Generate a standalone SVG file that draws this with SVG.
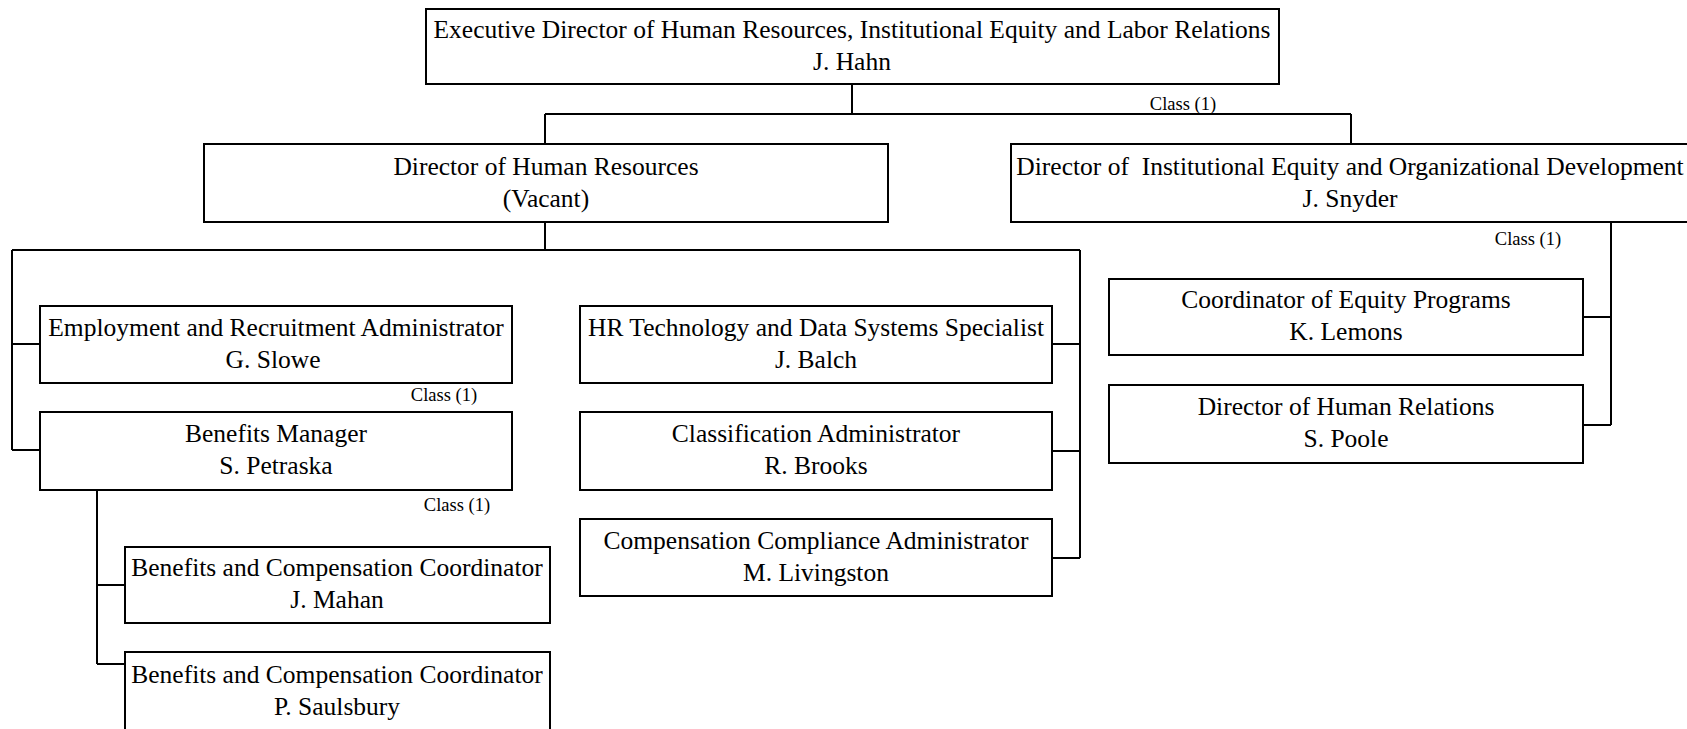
<svg xmlns="http://www.w3.org/2000/svg" width="1687" height="729" viewBox="0 0 1687 729">
<style>
.box{fill:#fff;stroke:#000;stroke-width:2}
.ln{fill:none;stroke:#000;stroke-width:2}
.t{font-family:"Liberation Serif","Times New Roman",serif;font-size:25.5px;fill:#000;text-anchor:middle;white-space:pre}
.c{font-family:"Liberation Serif","Times New Roman",serif;font-size:18.5px;fill:#000;text-anchor:middle}
</style>
<rect width="1687" height="729" fill="#fff"/>
<g id="connectors">
<path class="ln" d="M852 84V114M545 114H1351M545 114V144M1351 114V144"/>
<path class="ln" d="M545 222V250M12 250H1080M12 250V450M12 344H40M12 450H40M1080 250V558M1052 344H1080M1052 451H1080M1052 558H1080"/>
<path class="ln" d="M97 490V664M97 585H125M97 664H125"/>
<path class="ln" d="M1611 222V425M1583 317H1611M1583 425H1611"/>
<text class="c" x="1183" y="110">Class (1)</text>
<text class="c" x="1528" y="245">Class (1)</text>
<text class="c" x="444" y="401">Class (1)</text>
<text class="c" x="457" y="511">Class (1)</text>
</g>
<g id="exec">
<rect class="box" x="426" y="9" width="853" height="75"/>
<text class="t" x="852" y="38">Executive Director of Human Resources, Institutional Equity and Labor Relations</text>
<text class="t" x="852" y="70">J. Hahn</text>
</g>
<g id="dir-hr">
<rect class="box" x="204" y="144" width="684" height="78"/>
<text class="t" x="546" y="175">Director of Human Resources</text>
<text class="t" x="546" y="207">(Vacant)</text>
</g>
<g id="dir-ie">
<rect class="box" x="1011" y="144" width="678" height="78"/>
<text class="t" x="1350" y="175">Director of  Institutional Equity and Organizational Development</text>
<text class="t" x="1350" y="207">J. Snyder</text>
</g>
<g id="employment">
<rect class="box" x="40" y="306" width="472" height="77"/>
<text class="t" x="276" y="336">Employment and Recruitment Administrator</text>
<text class="t" x="273" y="368">G. Slowe</text>
</g>
<g id="benefits-mgr">
<rect class="box" x="40" y="412" width="472" height="78"/>
<text class="t" x="276" y="442">Benefits Manager</text>
<text class="t" x="276" y="474">S. Petraska</text>
</g>
<g id="mahan">
<rect class="box" x="125" y="547" width="425" height="76"/>
<text class="t" x="337" y="576">Benefits and Compensation Coordinator</text>
<text class="t" x="337" y="608">J. Mahan</text>
</g>
<g id="saulsbury">
<rect class="box" x="125" y="652" width="425" height="80"/>
<text class="t" x="337" y="683">Benefits and Compensation Coordinator</text>
<text class="t" x="337" y="715">P. Saulsbury</text>
</g>
<g id="hr-tech">
<rect class="box" x="580" y="306" width="472" height="77"/>
<text class="t" x="816" y="336">HR Technology and Data Systems Specialist</text>
<text class="t" x="816" y="368">J. Balch</text>
</g>
<g id="classification">
<rect class="box" x="580" y="412" width="472" height="78"/>
<text class="t" x="816" y="442">Classification Administrator</text>
<text class="t" x="816" y="474">R. Brooks</text>
</g>
<g id="compensation">
<rect class="box" x="580" y="519" width="472" height="77"/>
<text class="t" x="816" y="549">Compensation Compliance Administrator</text>
<text class="t" x="816" y="581">M. Livingston</text>
</g>
<g id="equity-coord">
<rect class="box" x="1109" y="279" width="474" height="76"/>
<text class="t" x="1346" y="308">Coordinator of Equity Programs</text>
<text class="t" x="1346" y="340">K. Lemons</text>
</g>
<g id="human-relations">
<rect class="box" x="1109" y="385" width="474" height="78"/>
<text class="t" x="1346" y="415">Director of Human Relations</text>
<text class="t" x="1346" y="447">S. Poole</text>
</g>
</svg>
